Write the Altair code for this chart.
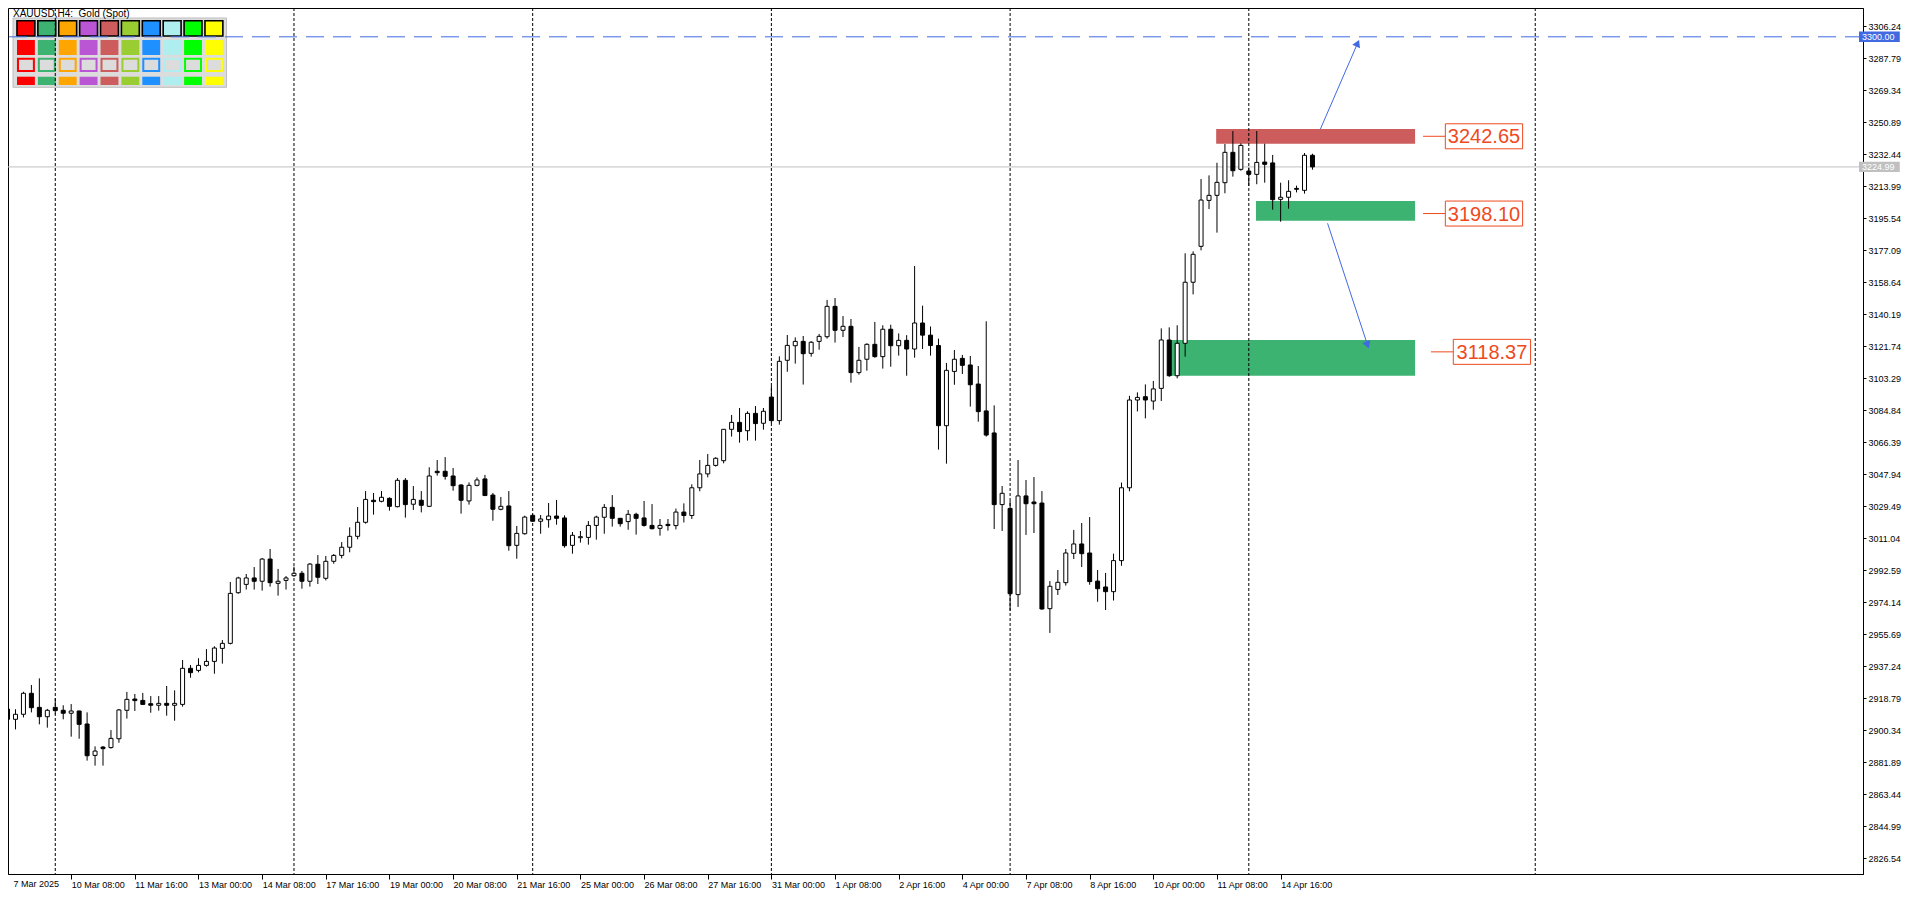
import math
import altair as alt
import numpy as np
import pandas as pd

# ---------------- data ----------------
OPEN = [
    2912.4, 2906.5, 2909.4, 2921.5, 2913.4, 2908.0, 2913.4, 2911.7, 2910.0, 2911.3,
    2903.8, 2885.7, 2890.5, 2890.2, 2895.3, 2911.7, 2918.2, 2917.4, 2915.5, 2914.6,
    2915.7, 2914.6, 2915.1, 2935.9, 2934.7, 2937.6, 2939.9, 2947.4, 2950.3, 2979.5,
    2984.3, 2988.0, 2986.1, 2998.9, 2984.9, 2986.6, 2989.3, 2990.7, 2986.1, 2995.9,
    2987.8, 2997.6, 3001.0, 3005.7, 3012.0, 3020.1, 3032.8, 3032.2, 3033.9, 3029.1,
    3044.3, 3030.5, 3032.8, 3029.3, 3049.5, 3049.5, 3046.8, 3041.6, 3032.4, 3041.4,
    3045.1, 3035.8, 3027.6, 3029.5, 3006.8, 3013.5, 3024.1, 3020.7, 3021.6, 3023.7,
    3022.6, 3006.8, 3011.2, 3011.4, 3018.3, 3023.0, 3028.7, 3022.4, 3020.5, 3024.7,
    3022.6, 3018.3, 3016.6, 3018.9, 3018.2, 3026.0, 3024.0, 3040.0, 3048.0, 3052.9,
    3055.6, 3073.7, 3077.7, 3072.9, 3082.9, 3077.2, 3092.3, 3078.7, 3113.5, 3121.9,
    3124.4, 3117.5, 3124.4, 3127.1, 3144.6, 3130.8, 3133.1, 3106.4, 3114.1, 3122.7,
    3115.6, 3131.4, 3121.9, 3125.0, 3120.0, 3135.0, 3128.0, 3122.0, 3075.8, 3107.1,
    3114.6, 3110.8, 3099.8, 3084.3, 3071.6, 3030.3, 3028.1, 2978.4, 3035.3, 3031.8,
    3031.2, 2970.3, 2981.4, 2985.3, 3002.2, 3007.6, 3002.4, 2986.2, 2982.8, 2980.1,
    2998.0, 3040.0, 3090.6, 3092.5, 3090.0, 3097.3, 3125.2, 3104.6, 3123.3, 3158.5,
    3179.2, 3205.7, 3208.6, 3215.9, 3233.4, 3223.6, 3222.6, 3220.7, 3227.8, 3227.3,
    3206.3, 3207.5, 3212.6, 3211.5, 3231.7,
]
HIGH = [
    2912.8, 2912.3, 2922.4, 2926.3, 2930.1, 2912.5, 2918.6, 2914.6, 2915.3, 2911.5,
    2910.5, 2890.9, 2891.1, 2900.3, 2912.5, 2922.3, 2921.1, 2921.7, 2919.9, 2919.9,
    2925.7, 2923.2, 2940.7, 2937.8, 2941.7, 2947.0, 2948.6, 2952.2, 2985.7, 2988.7,
    2990.3, 2994.3, 2999.5, 3004.7, 2993.2, 2989.1, 2994.5, 2992.0, 2996.6, 3001.2,
    3000.7, 3001.8, 3008.7, 3017.2, 3028.9, 3038.1, 3037.0, 3038.1, 3034.5, 3045.6,
    3045.6, 3041.0, 3038.1, 3051.8, 3056.0, 3057.7, 3051.4, 3042.0, 3043.1, 3046.0,
    3047.4, 3037.0, 3034.7, 3038.1, 3018.0, 3023.9, 3024.9, 3024.3, 3031.2, 3033.0,
    3024.1, 3014.5, 3015.1, 3020.8, 3023.9, 3030.6, 3035.8, 3022.5, 3027.2, 3025.6,
    3032.4, 3030.6, 3022.0, 3022.0, 3028.0, 3031.0, 3042.0, 3056.0, 3059.5, 3057.6,
    3073.8, 3082.0, 3086.0, 3084.1, 3087.1, 3086.0, 3098.7, 3115.8, 3128.1, 3126.7,
    3127.5, 3124.6, 3128.7, 3148.3, 3149.4, 3139.0, 3137.3, 3121.2, 3123.3, 3135.6,
    3133.7, 3134.0, 3129.0, 3128.0, 3167.9, 3145.0, 3133.0, 3126.0, 3112.0, 3119.4,
    3116.6, 3116.0, 3110.2, 3136.0, 3087.5, 3041.0, 3032.4, 3056.0, 3044.5, 3046.2,
    3038.1, 2986.2, 2992.6, 3004.7, 3015.7, 3019.7, 3023.1, 2992.6, 2990.9, 3002.0,
    3043.0, 3093.0, 3095.0, 3099.6, 3101.6, 3131.9, 3132.5, 3133.7, 3175.2, 3176.3,
    3218.0, 3220.1, 3227.4, 3238.2, 3245.7, 3238.6, 3224.6, 3245.7, 3238.4, 3231.9,
    3215.9, 3217.3, 3214.2, 3233.0, 3232.6,
]
LOW = [
    2906.1, 2900.7, 2907.6, 2910.5, 2903.6, 2901.7, 2909.4, 2906.5, 2896.5, 2895.3,
    2882.7, 2879.8, 2879.8, 2889.6, 2893.0, 2906.9, 2911.3, 2915.0, 2910.3, 2911.5,
    2908.6, 2905.7, 2913.8, 2930.5, 2933.6, 2936.9, 2932.8, 2938.6, 2949.7, 2978.9,
    2981.3, 2981.3, 2980.7, 2983.0, 2977.8, 2981.3, 2988.7, 2981.8, 2983.0, 2984.5,
    2986.6, 2996.2, 2999.3, 3002.8, 3010.3, 3019.3, 3024.5, 3031.6, 3026.8, 3028.7,
    3022.8, 3027.2, 3025.8, 3028.9, 3047.0, 3044.7, 3038.3, 3025.1, 3030.3, 3040.8,
    3035.3, 3021.0, 3027.0, 3003.7, 2999.1, 3013.0, 3020.5, 3013.5, 3017.0, 3018.7,
    3005.5, 3002.0, 3008.4, 3007.2, 3010.1, 3013.5, 3017.6, 3017.6, 3015.8, 3013.0,
    3017.6, 3016.0, 3012.4, 3015.3, 3016.0, 3020.0, 3022.0, 3038.0, 3046.0, 3052.2,
    3054.1, 3069.5, 3066.0, 3067.2, 3067.2, 3073.5, 3077.2, 3076.4, 3106.9, 3111.6,
    3099.5, 3115.6, 3119.6, 3126.0, 3123.7, 3126.9, 3100.6, 3105.2, 3107.5, 3115.0,
    3108.7, 3109.8, 3116.2, 3104.6, 3115.0, 3120.0, 3116.2, 3062.0, 3053.9, 3099.4,
    3105.6, 3086.8, 3078.1, 3069.5, 3016.2, 3015.1, 2969.1, 2971.3, 3012.8, 3013.9,
    2969.7, 2956.3, 2978.2, 2983.6, 2998.9, 2994.3, 2984.1, 2974.3, 2969.5, 2975.0,
    2995.0, 3038.0, 3084.0, 3080.0, 3085.0, 3090.0, 3104.0, 3103.1, 3115.6, 3151.5,
    3176.9, 3200.7, 3187.1, 3209.8, 3219.4, 3222.8, 3214.0, 3215.0, 3215.9, 3200.3,
    3193.4, 3200.9, 3210.3, 3209.6, 3223.4,
]
CLOSE = [
    2906.5, 2909.4, 2921.5, 2913.2, 2908.0, 2911.7, 2911.5, 2910.0, 2911.3, 2903.6,
    2885.5, 2888.2, 2889.6, 2895.5, 2911.9, 2918.0, 2917.3, 2915.1, 2914.6, 2915.7,
    2914.6, 2915.7, 2935.9, 2933.4, 2937.6, 2939.9, 2947.6, 2950.3, 2979.1, 2988.0,
    2988.0, 2986.1, 2998.9, 2985.3, 2986.1, 2988.0, 2990.7, 2986.1, 2996.0, 2988.4,
    2997.6, 3001.0, 3005.7, 3012.0, 3020.1, 3033.3, 3032.0, 3034.5, 3029.3, 3044.3,
    3030.3, 3033.3, 3029.9, 3046.8, 3048.7, 3046.6, 3041.2, 3032.8, 3041.4, 3044.5,
    3035.5, 3027.6, 3029.3, 3006.6, 3013.7, 3023.1, 3020.7, 3022.0, 3023.7, 3022.4,
    3006.6, 3012.6, 3011.8, 3018.3, 3023.1, 3028.7, 3022.4, 3019.3, 3024.7, 3022.4,
    3018.3, 3016.4, 3018.3, 3018.2, 3026.0, 3024.0, 3040.0, 3048.0, 3052.9, 3057.0,
    3073.7, 3077.7, 3072.4, 3082.9, 3077.0, 3084.1, 3078.7, 3112.9, 3122.1, 3124.4,
    3117.3, 3123.9, 3127.3, 3144.6, 3130.8, 3133.1, 3106.4, 3113.5, 3122.7, 3115.6,
    3131.4, 3121.9, 3125.0, 3120.0, 3135.0, 3128.0, 3122.0, 3075.8, 3107.7, 3114.1,
    3110.6, 3099.4, 3083.9, 3070.4, 3030.3, 3036.8, 2978.9, 3035.3, 3030.8, 3030.8,
    2970.1, 2983.2, 2985.5, 3002.4, 3007.6, 3002.0, 2985.9, 2981.8, 2980.1, 2998.0,
    3040.0, 3090.6, 3092.1, 3090.6, 3097.0, 3125.2, 3104.6, 3123.3, 3158.5, 3174.6,
    3205.9, 3208.6, 3216.1, 3233.4, 3222.8, 3237.4, 3220.7, 3227.6, 3226.5, 3206.1,
    3207.5, 3210.9, 3212.1, 3231.7, 3225.0,
]

Y_TICKS = [3306.24, 3287.79, 3269.34, 3250.89, 3232.44, 3213.99, 3195.54, 3177.09,
           3158.64, 3140.19, 3121.74, 3103.29, 3084.84, 3066.39, 3047.94, 3029.49,
           3011.04, 2992.59, 2974.14, 2955.69, 2937.24, 2918.79, 2900.34, 2881.89,
           2863.44, 2844.99, 2826.54]
X_TICK_BARS = [0, 8, 16, 24, 32, 40, 48, 56, 64, 72, 80, 88, 96, 104, 112, 120,
               128, 136, 144, 152, 160]
X_TICK_LABELS = ["7 Mar 2025", "10 Mar 08:00", "11 Mar 16:00", "13 Mar 00:00",
                 "14 Mar 08:00", "17 Mar 16:00", "19 Mar 00:00", "20 Mar 08:00",
                 "21 Mar 16:00", "25 Mar 00:00", "26 Mar 08:00", "27 Mar 16:00",
                 "31 Mar 00:00", "1 Apr 08:00", "2 Apr 16:00", "4 Apr 00:00",
                 "7 Apr 08:00", "8 Apr 16:00", "10 Apr 00:00", "11 Apr 08:00",
                 "14 Apr 16:00"]
WEEK_BARS = [6, 36, 66, 96, 126, 156, 192]

ZONE_START = [151.9, 156.9, 145.8]
ZONE_END = [176.9, 176.9, 176.9]
ZONE_TOP = [3246.85, 3205.34, 3125.2]
ZONE_BOTTOM = [3238.38, 3193.98, 3104.6]
ZONE_COLORS = ["#cd5c5c", "#3cb371", "#3cb371"]

LABEL_PRICES = [3242.65, 3198.10, 3118.37]
LABEL_LINE_START = [177.9, 177.9, 178.9]
LABEL_BOX_START = [180.7, 180.7, 181.7]

ARROW_X0 = [165.0, 165.9]
ARROW_P0 = [3246.85, 3192.5]
ARROW_X1 = [169.9, 171.1]
ARROW_P1 = [3298.7, 3119.8]

BID = 3224.99
TARGET = 3300.00
SYMBOL_TITLE = "XAUUSD,H4: \u00a0Gold (Spot)"
PALETTE = ["#ff0000", "#3cb371", "#ffa500", "#ba55d3", "#cd5c5c",
           "#9acd32", "#1e90ff", "#afeeee", "#00ff00", "#ffff00"]

# ---------------- geometry / style ----------------
W, H = 1855, 866
BAR_PX = 8.0
X0_PX = -5.5
PX_PER_PRICE = 32 / 18.45
P_REF, P_REF_PX = 3306.24, 18.0
XDOM = [-X0_PX / BAR_PX, (W - X0_PX) / BAR_PX]
YDOM = [P_REF - (H - P_REF_PX) / PX_PER_PRICE, P_REF + P_REF_PX / PX_PER_PRICE]


def px2bar(px):
    return (px - X0_PX) / BAR_PX


def py2price(py):
    return P_REF - (py - P_REF_PX) / PX_PER_PRICE


FONT = "Liberation Sans"
BLUE = "#4169e1"
ORANGE = "#ee4a1e"
PANEL_BG = "#dcdcdc"

xs = alt.Scale(domain=XDOM, nice=False, zero=False)
ys = alt.Scale(domain=YDOM, nice=False, zero=False)

js_labels = "[" + ",".join("'" + s + "'" for s in X_TICK_LABELS) + "]"
js_bars = "[" + ",".join(str(b) for b in X_TICK_BARS) + "]"
x_axis = alt.Axis(values=X_TICK_BARS, labelExpr=f"{js_labels}[indexof({js_bars}, datum.value)]",
                  tickSize=5, tickColor="black", domainColor="black", labelColor="black",
                  labelFont=FONT, labelFontSize=9, labelAlign="left", labelBaseline="top",
                  labelPadding=1, labelFlush=False, labelOverlap=False, grid=False, title=None)
y_axis = alt.Axis(orient="right", values=Y_TICKS, format=".2f", tickSize=3, tickColor="black",
                  domainColor="black", labelColor="black", labelFont=FONT, labelFontSize=9,
                  labelPadding=2, labelOverlap=False, labelFlush=False, grid=False, title=None)


def X(f):
    return alt.X(f"{f}:Q", scale=xs, axis=x_axis)


def Y(f):
    return alt.Y(f"{f}:Q", scale=ys, axis=y_axis)


# ---------------- tables ----------------
n = len(OPEN)
candles = pd.DataFrame({"bar": np.arange(n), "open": OPEN, "high": HIGH, "low": LOW, "close": CLOSE})
candles["fill"] = np.where(candles["close"] >= candles["open"], "white", "black")

zones = pd.DataFrame({"x0": ZONE_START, "x1": ZONE_END, "top": ZONE_TOP, "bot": ZONE_BOTTOM,
                      "fill": ZONE_COLORS})
weeks = pd.DataFrame({"bar": WEEK_BARS})
bid_df = pd.DataFrame({"p": [BID]})
target_df = pd.DataFrame({"p": [TARGET]})

half_box = 12.5 / PX_PER_PRICE
labels = pd.DataFrame({"p": LABEL_PRICES, "lx0": LABEL_LINE_START, "bx0": LABEL_BOX_START})
labels["lx1"] = labels["bx0"]
labels["bx1"] = labels["bx0"] + 77.7 / BAR_PX
labels["bxc"] = (labels["bx0"] + labels["bx1"]) / 2
labels["pt"] = labels["p"] + half_box
labels["pb"] = labels["p"] - half_box
labels["txt"] = [f"{v:.2f}" for v in LABEL_PRICES]

arrows = pd.DataFrame({"x0": ARROW_X0, "p0": ARROW_P0, "x1": ARROW_X1, "p1": ARROW_P1})
hx, hp, ang = [], [], []
for a in arrows.itertuples():
    dx = (a.x1 - a.x0) * BAR_PX
    dy = -(a.p1 - a.p0) * PX_PER_PRICE
    ln = math.hypot(dx, dy)
    ux, uy = dx / ln, dy / ln
    hx.append(a.x1 - 4.5 * ux / BAR_PX)
    hp.append(a.p1 + 4.5 * uy / PX_PER_PRICE)
    ang.append(math.degrees(math.atan2(ux, -uy)) % 360)
arrows["hx"], arrows["hp"], arrows["ang"] = hx, hp, ang

# price tags on the axis
tags = pd.DataFrame({"p": [TARGET, BID], "fill": [BLUE, "#c0c0c0"]})
tags["bx0"] = px2bar(W + 1)
tags["bx1"] = px2bar(W + 42)
tags["tx"] = px2bar(W + 4)
tags["pt"] = tags["p"] + 5.2 / PX_PER_PRICE
tags["pb"] = tags["p"] - 5.2 / PX_PER_PRICE
tags["txt"] = [f"{v:.2f}" for v in tags["p"]]

# first time label (sits left of the plot's first full bar)
first_label = pd.DataFrame({"bar": [X_TICK_BARS[0]], "txt": [X_TICK_LABELS[0]], "p": [YDOM[0]]})

# colour panel (top-left)
rows = [{"x0": 0, "x1": 214.7, "y0": 10, "y1": 79.3, "fill": PANEL_BG, "stroke": "#bdbdbd", "sw": 1}]
for k, c in enumerate(PALETTE):
    cx = 4 + 21 * k
    rows.append({"x0": cx, "x1": cx + 18, "y0": 12.7, "y1": 28, "fill": c, "stroke": "black", "sw": 1.6})
    rows.append({"x0": cx, "x1": cx + 18, "y0": 32, "y1": 47, "fill": c, "stroke": c, "sw": 0})
    rows.append({"x0": cx + 1, "x1": cx + 17, "y0": 50.7, "y1": 63, "fill": PANEL_BG, "stroke": c, "sw": 2})
    rows.append({"x0": cx, "x1": cx + 18, "y0": 68.7, "y1": 77, "fill": c, "stroke": c, "sw": 0})
panel = pd.DataFrame(rows)
panel["bx0"] = px2bar(panel["x0"])
panel["bx1"] = px2bar(panel["x1"])
panel["p0"] = py2price(panel["y0"])
panel["p1"] = py2price(panel["y1"])

title_df = pd.DataFrame({"t": [SYMBOL_TITLE], "bx": [px2bar(0)], "p": [py2price(8.5)]})

# ---------------- layers ----------------
panel_layer = alt.Chart(panel).mark_rect().encode(
    x=X("bx0"), x2=alt.X2("bx1"), y=Y("p0"), y2=alt.Y2("p1"),
    fill=alt.Fill("fill:N", scale=None), stroke=alt.Stroke("stroke:N", scale=None),
    strokeWidth=alt.StrokeWidth("sw:Q", scale=None))

title_layer = alt.Chart(title_df).mark_text(align="left", baseline="alphabetic", font=FONT,
                                            fontSize=10, color="black").encode(
    x=X("bx"), y=Y("p"), text="t:N")

zone_layer = alt.Chart(zones).mark_rect(clip=True).encode(
    x=X("x0"), x2=alt.X2("x1"), y=Y("top"), y2=alt.Y2("bot"), fill=alt.Fill("fill:N", scale=None))

week_layer = alt.Chart(weeks).mark_rule(color="black", strokeWidth=1, strokeDash=[3, 2]).encode(x=X("bar"))

bid_layer = alt.Chart(bid_df).mark_rule(color="#c0c0c0", strokeWidth=1).encode(y=Y("p"))
target_layer = alt.Chart(target_df).mark_rule(color=BLUE, strokeWidth=1, strokeDash=[18, 9]).encode(y=Y("p"))

wick_layer = alt.Chart(candles).mark_rule(color="black", strokeWidth=1, clip=True).encode(
    x=X("bar"), y=Y("low"), y2=alt.Y2("high"))
body_layer = alt.Chart(candles).mark_bar(size=4, stroke="black", strokeWidth=1, clip=True).encode(
    x=X("bar"), y=Y("open"), y2=alt.Y2("close"), fill=alt.Fill("fill:N", scale=None))

arrow_layer = alt.Chart(arrows).mark_rule(color=BLUE, strokeWidth=1).encode(
    x=X("x0"), x2=alt.X2("hx"), y=Y("p0"), y2=alt.Y2("hp"))
head_layer = alt.Chart(arrows).mark_point(shape="triangle-up", filled=True, size=70, color=BLUE,
                                          opacity=1).encode(
    x=X("hx"), y=Y("hp"), angle=alt.Angle("ang:Q", scale=None))

lead_layer = alt.Chart(labels).mark_rule(color=ORANGE, strokeWidth=1).encode(
    x=X("lx0"), x2=alt.X2("lx1"), y=Y("p"))
box_layer = alt.Chart(labels).mark_rect(fill="white", stroke=ORANGE, strokeWidth=1).encode(
    x=X("bx0"), x2=alt.X2("bx1"), y=Y("pt"), y2=alt.Y2("pb"))
label_text = alt.Chart(labels).mark_text(font=FONT, fontSize=20, color=ORANGE, baseline="middle",
                                         align="center", dy=1).encode(
    x=X("bxc"), y=Y("p"), text="txt:N")

tag_box = alt.Chart(tags).mark_rect().encode(
    x=X("bx0"), x2=alt.X2("bx1"), y=Y("pt"), y2=alt.Y2("pb"), fill=alt.Fill("fill:N", scale=None))
tag_text = alt.Chart(tags).mark_text(font=FONT, fontSize=9, color="white", align="left",
                                     baseline="middle").encode(
    x=X("tx"), y=Y("p"), text="txt:N")

first_text = alt.Chart(first_label).mark_text(font=FONT, fontSize=9, color="black", align="left",
                                              baseline="top", dx=6, dy=6).encode(
    x=X("bar"), y=Y("p"), text="txt:N")

chart = alt.layer(
    panel_layer, zone_layer, week_layer, bid_layer, target_layer, title_layer,
    wick_layer, body_layer, arrow_layer, head_layer, lead_layer, box_layer, label_text,
    tag_box, tag_text, first_text,
).properties(
    width=W, height=H, background="white",
    padding={"left": 0, "top": 0, "right": 44, "bottom": 19},
    autosize=alt.AutoSizeParams(type="none"),
).configure_view(stroke="black", strokeWidth=1)

chart.save("out.html", embed_options={"renderer": "svg", "actions": False})
